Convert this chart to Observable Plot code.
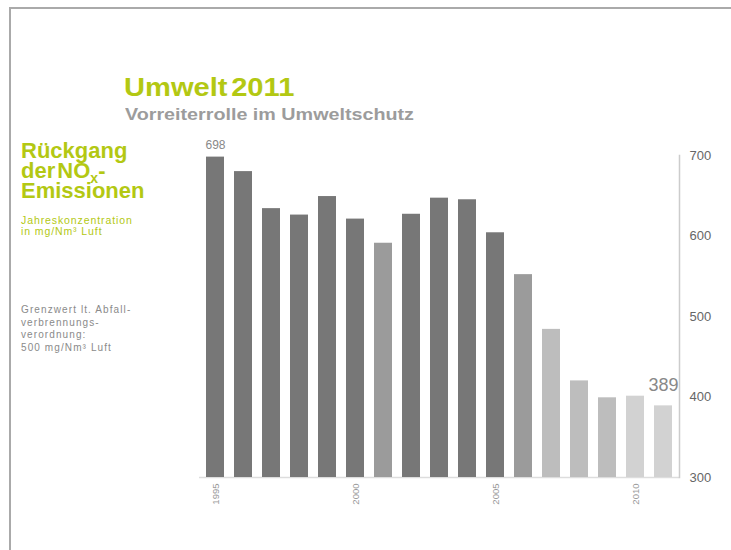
<!DOCTYPE html>
<html>
<head>
<meta charset="utf-8">
<script src="https://cdn.jsdelivr.net/npm/d3@7"></script>
<script src="https://cdn.jsdelivr.net/npm/@observablehq/plot@0.6"></script>
<style>
  html, body { margin: 0; padding: 0; background: #fff; }
  #page { position: relative; width: 731px; height: 550px; overflow: hidden; font-family: "Liberation Sans", Arial, sans-serif; }
  #border { position: absolute; left: 9px; top: 7px; width: 730px; height: 560px; border-top: 2px solid #aaaaaa; border-left: 2px solid #aaaaaa; }
  #chart { position: absolute; left: 0; top: 0; }
  .t { position: absolute; white-space: nowrap; transform-origin: left top; }
  #title { left: 124px; top: 74px; font-size: 26px; line-height: 26px; font-weight: bold; color: #b3c813; word-spacing: -4px; transform: scaleX(1.12); }
  #subtitle { left: 125px; top: 106px; font-size: 17px; line-height: 17px; font-weight: bold; color: #9c9c9c; transform: scaleX(1.16); }
  #head { left: 21px; top: 140.7px; font-size: 22px; line-height: 20px; font-weight: bold; color: #b3c813; }
  #head .sub { font-size: 14px; line-height: 0; vertical-align: -5px; }
  #head .der { word-spacing: -4px; }
  #unit { left: 21px; top: 215.2px; font-size: 10.5px; line-height: 11px; color: #b3c813; letter-spacing: 0.9px; }
  #limit { left: 21px; top: 304px; font-size: 10px; line-height: 12.7px; color: #8a8a8a; letter-spacing: 1.1px; }
</style>
</head>
<body>
<div id="page">
  <div id="border"></div>
  <div id="chart"></div>
  <div class="t" id="title">Umwelt 2011</div>
  <div class="t" id="subtitle">Vorreiterrolle im Umweltschutz</div>
  <div class="t" id="head">Rückgang<br><span class="der">der NO<span class="sub">x</span>-</span><br>Emissionen</div>
  <div class="t" id="unit">Jahreskonzentration<br>in mg/Nm³ Luft</div>
  <div class="t" id="limit">Grenzwert lt. Abfall-<br>verbrennungs-<br>verordnung:<br>500 mg/Nm³ Luft</div>
</div>
<script>
const years = ["1995","1996","1997","1998","1999","2000","2001","2002","2003","2004","2005","2006","2007","2008","2009","2010","2011"];
const values = [698, 680, 634, 626, 649, 621, 591, 627, 647, 645, 604, 552, 484, 420, 399, 401, 389];
const tones = ["dark","dark","dark","dark","dark","dark","mid","dark","dark","dark","dark","mid","light","light","light","pale","pale"];
const yTicks = [300, 400, 500, 600, 700];
const xTicks = ["1995", "2000", "2005", "2010"];
const gridValues = [700, 600, 500, 400];
const gridFrom = ["1995", "2006", "2007", "2010"];

const data = years.map((year, i) => ({year, value: values[i], tone: tones[i]}));
const grid = gridValues.map((value, i) => ({value, from: gridFrom[i]}));
const firstLabel = [{year: years[0], value: values[0]}];
const lastLabel = [{year: years[years.length - 1], value: values[values.length - 1]}];

const chart = Plot.plot({
  width: 731,
  height: 550,
  marginTop: 155,
  marginBottom: 73,
  marginLeft: 199,
  marginRight: 52,
  style: {fontFamily: "'Liberation Sans', Arial, sans-serif", background: "transparent", overflow: "visible"},
  x: {type: "band", domain: years, paddingInner: 0.36, paddingOuter: 0.1, axis: null},
  y: {domain: [yTicks[0], yTicks[yTicks.length - 1]], axis: null},
  color: {domain: ["dark", "mid", "light", "pale"], range: ["#777777", "#9b9b9b", "#bdbdbd", "#d2d2d2"]},
  marks: [
    Plot.ruleY(grid, {y: "value", x1: "from", stroke: "#d6d6d6", strokeWidth: 1.5}),
    Plot.ruleY([yTicks[0]], {stroke: "#dddddd", strokeWidth: 1.5}),
    Plot.frame({anchor: "right", stroke: "#cccccc", strokeWidth: 1.5}),
    Plot.barY(data, {x: "year", y1: yTicks[0], y2: "value", fill: "tone"}),
    Plot.axisY(yTicks, {anchor: "right", label: null, tickSize: 0, tickPadding: 10, fontSize: 13, color: "#666666"}),
    Plot.axisX(xTicks, {anchor: "bottom", label: null, tickSize: 0, tickPadding: 6, tickRotate: -90, fontSize: 9.5, color: "#999999"}),
    Plot.text(firstLabel, {x: "year", y: "value", text: d => String(d.value), lineAnchor: "bottom", dy: -8, fontSize: 12, fill: "#888888"}),
    Plot.text(lastLabel, {x: "year", y: "value", text: d => String(d.value), textAnchor: "end", lineAnchor: "bottom", dx: 15, dy: -15, fontSize: 18, fill: "#888888"})
  ]
});
document.getElementById("chart").appendChild(chart);
</script>
</body>
</html>
